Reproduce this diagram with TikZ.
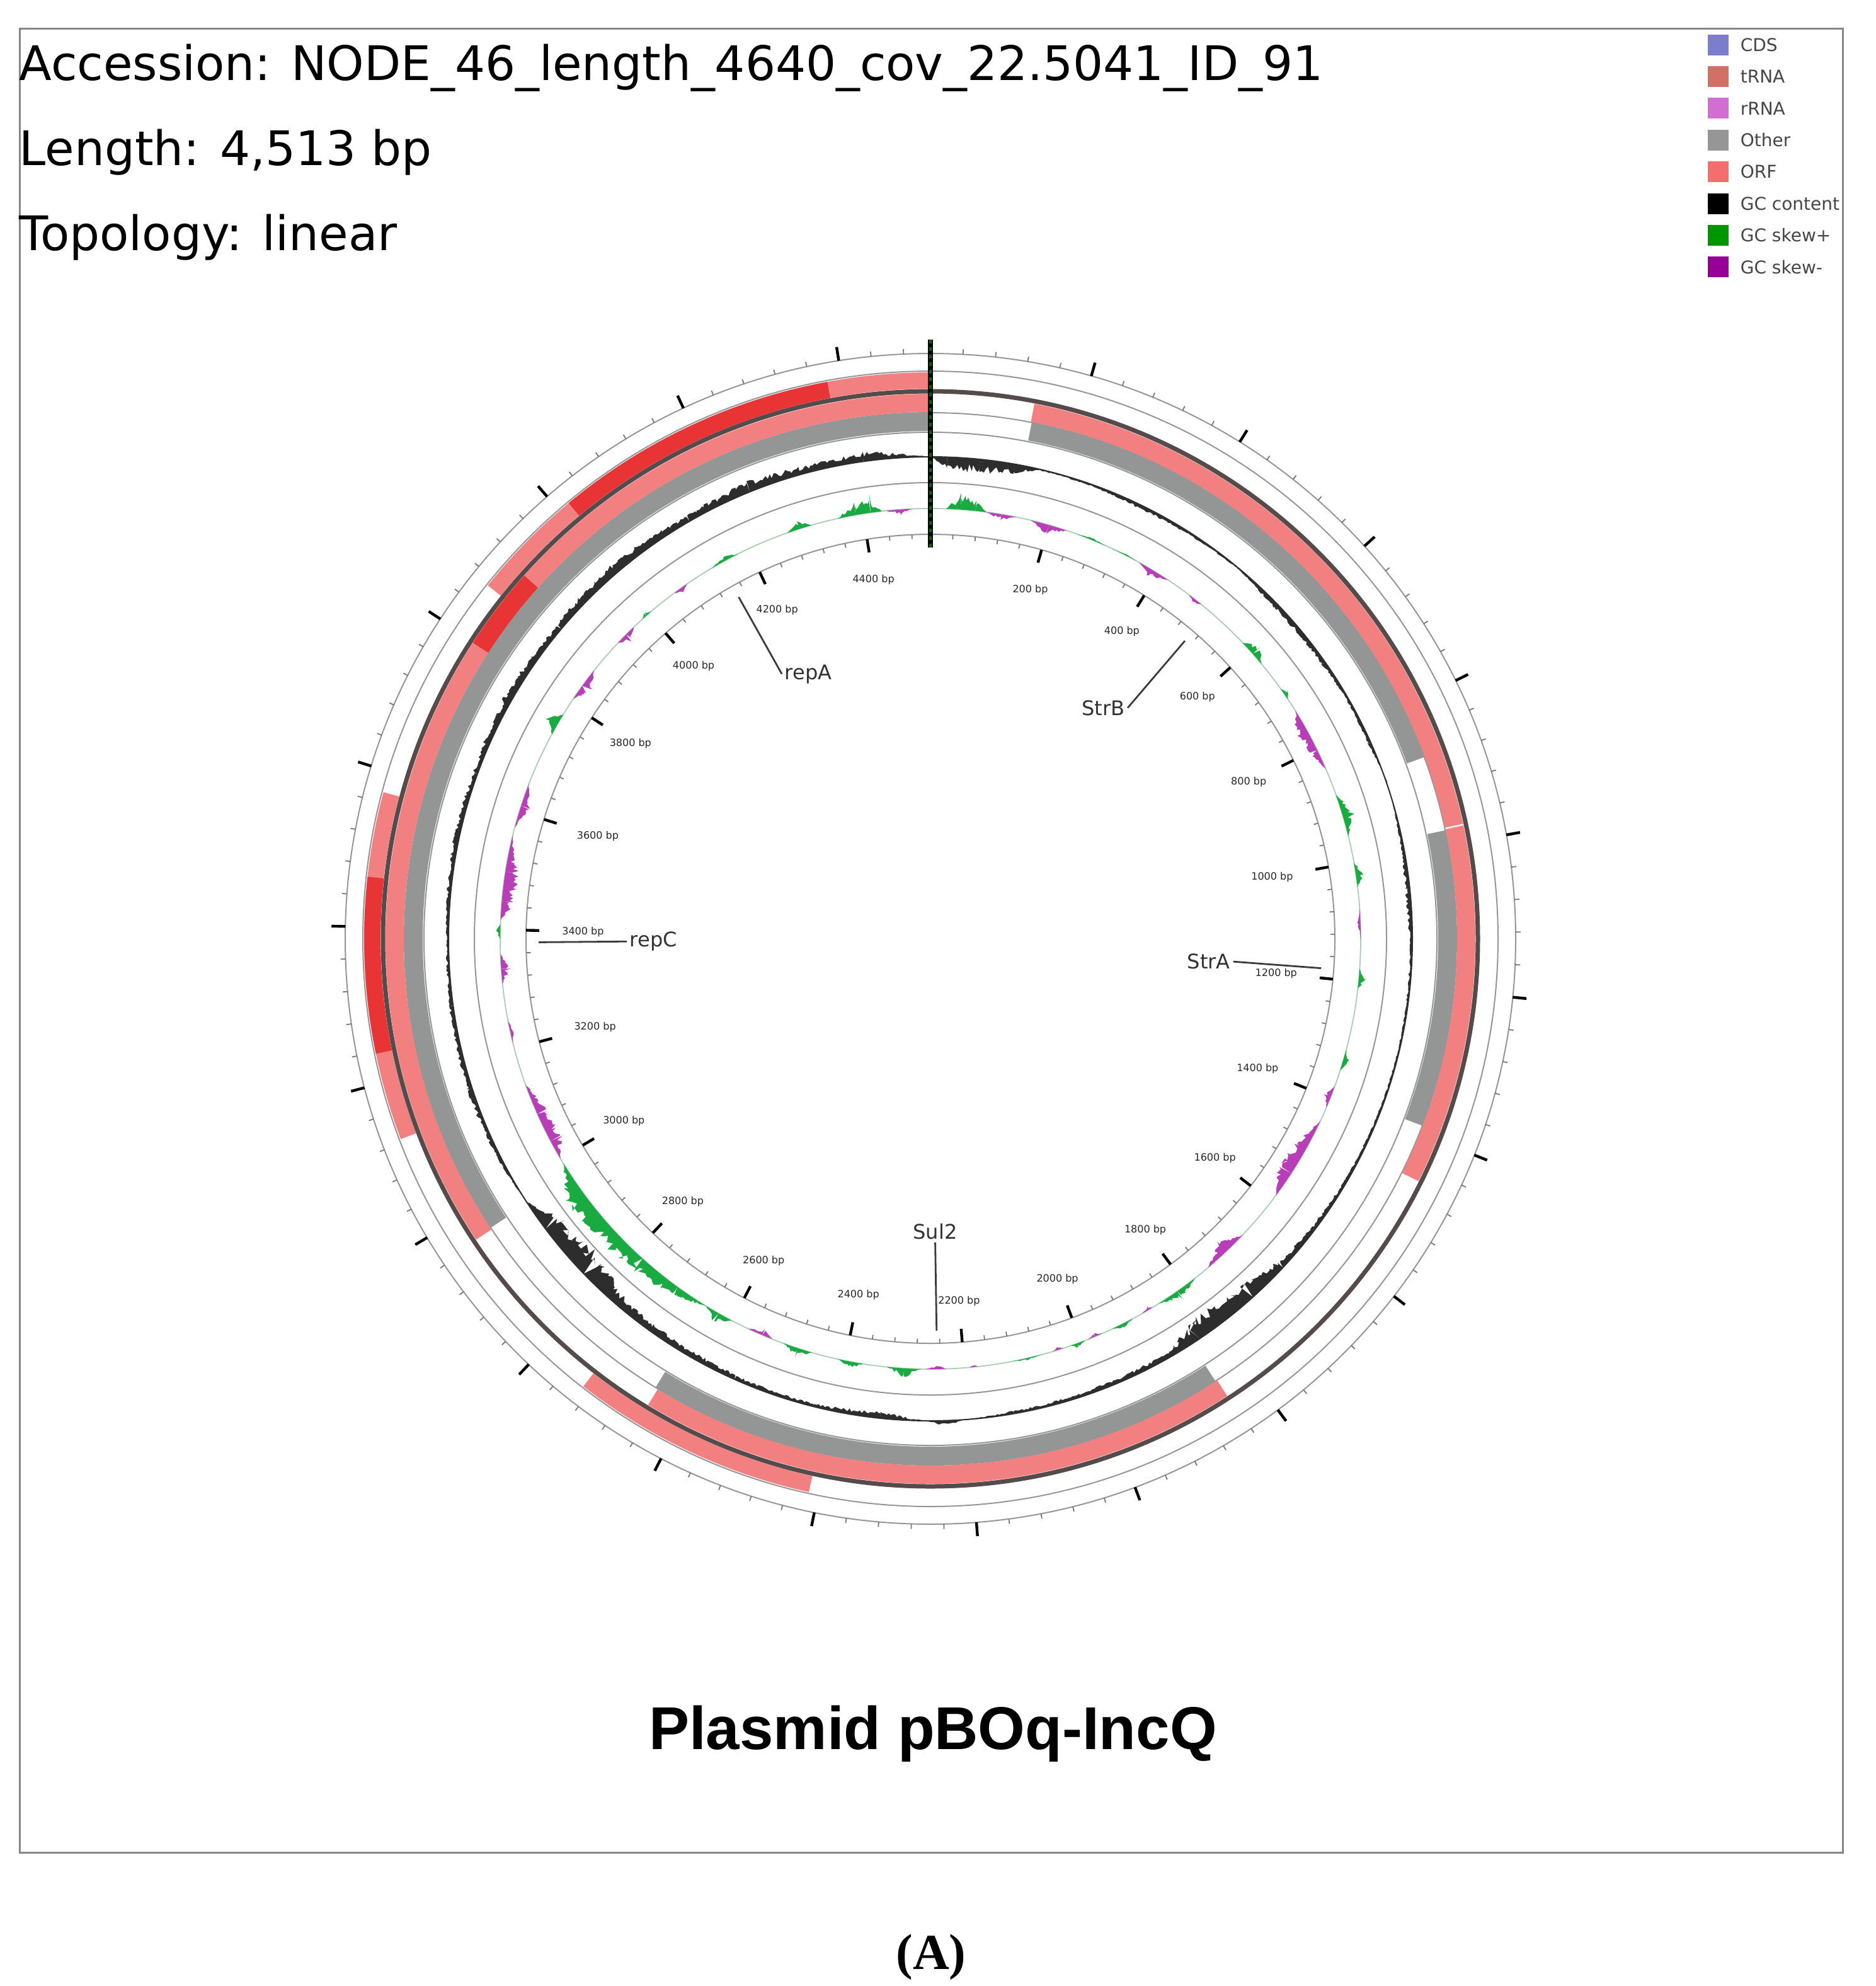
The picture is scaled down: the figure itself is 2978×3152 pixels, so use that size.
\documentclass[tikz,border=0pt]{standalone}
\usepackage{fontspec}
\setmainfont{DejaVu Sans}
\newfontfamily\titlefont{Liberation Sans}
\newfontfamily\capfont{Liberation Serif}

\definecolor{orf}{RGB}{242,128,128}
\definecolor{orfdark}{RGB}{232,52,52}
\definecolor{other}{RGB}{148,150,150}
\definecolor{backbone}{RGB}{85,75,75}
\definecolor{gcpos}{RGB}{25,170,65}
\definecolor{gcneg}{RGB}{185,60,185}
\definecolor{gccont}{RGB}{45,45,45}
\definecolor{ringcol}{RGB}{150,150,150}
\definecolor{tickgrey}{RGB}{120,120,120}
\definecolor{leadcol}{RGB}{60,60,60}
\definecolor{labcol}{RGB}{50,50,50}
\definecolor{framecol}{RGB}{135,135,135}
\definecolor{skewbase}{RGB}{170,205,180}
\definecolor{legtextcol}{RGB}{70,70,70}
\definecolor{lgcds}{RGB}{125,125,205}
\definecolor{lgtrna}{RGB}{210,112,102}
\definecolor{lgrrna}{RGB}{210,110,210}
\definecolor{lgother}{RGB}{150,150,150}
\definecolor{lgorf}{RGB}{245,110,110}
\definecolor{lggc}{RGB}{0,0,0}
\definecolor{lgskp}{RGB}{0,150,0}
\definecolor{lgskm}{RGB}{150,0,150}

\newcommand\annsec[5]{\fill[#1] ({90-(#4)}:#3) arc[start angle={90-(#4)}, end angle={90-(#5)}, radius=#3] -- ({90-(#5)}:#2) arc[start angle={90-(#5)}, end angle={90-(#4)}, radius=#2] -- cycle;}

\tikzset{
  ringline/.style={draw=ringcol, line width=0.5pt},
  majtick/.style={draw=black, line width=1.1pt},
  mintick/.style={draw=tickgrey, line width=0.45pt},
  leader/.style={draw=leadcol, line width=0.7pt},
  genelabel/.style={inner sep=1pt, font=\fontsize{8}{9}\selectfont, text=labcol},
  bplabel/.style={inner sep=0.6pt, font=\fontsize{4}{5}\selectfont, text=black!85},
  headtext/.style={anchor=base west, inner sep=0pt, font=\fontsize{18.9}{22}\selectfont},
  legbox/.style={minimum size=8.25pt, inner sep=0pt},
  legtext/.style={anchor=west, inner sep=0pt, font=\fontsize{7}{8}\selectfont, text=legtextcol},
}

\begin{document}
\begin{tikzpicture}[x=0.25pt,y=0.25pt]
\useasboundingbox (0,0) rectangle (2978,-3152);
\fill[white] (0,0) rectangle (2978,-3152);
\draw[framecol, line width=0.75pt] (31,-45) rectangle (2925,-2940);

% header
\node[headtext] (acc) at (30,-127) {Accession: NODE\_46\_length\_4640\_cov\_22.5041\_ID\_91};
\node[headtext] (len) at (30,-262) {Length: 4,513 bp};
\node[headtext] (topo) at (30,-397) {Topology: linear};

% legend
\foreach \i/\lc/\lt in {0/lgcds/CDS, 1/lgtrna/tRNA, 2/lgrrna/rRNA, 3/lgother/Other, 4/lgorf/ORF, 5/lggc/GC content, 6/lgskp/GC skew+, 7/lgskm/GC skew-} {
  \pgfmathsetmacro\yy{-(71+\i*50.4)}
  \node[legbox, fill=\lc] (lb\i) at (2727,\yy) {};
  \node[legtext] (lt\i) at (2762,\yy) {\lt};
}

\begin{scope}[shift={(1477,-1490)}]
  % thin ring lines
  \foreach \r in {929,901,835,804,724,642} { \draw[ringline] (0,0) circle[radius=\r]; }
  \draw[gccont, line width=0.5pt] (0,0) circle[radius=765];
  \draw[skewbase, line width=0.45pt] (0,0) circle[radius=683];

  % slot A (outer, 873-899)
  \annsec{orf}{873}{899}{308.6}{360}
  \annsec{orfdark}{873}{899}{320.3}{349.5}
  \annsec{orf}{873}{899}{249.3}{285}
  \annsec{orfdark}{873}{899}{258.3}{276.3}
  \annsec{orf}{873}{899}{192.4}{217.8}
  % slot B (836-865)
  \annsec{orf}{836}{865}{11}{116.4}
  \annsec{orf}{836}{865}{147}{211.2}
  \annsec{orf}{836}{865}{236.5}{360}
  \annsec{orfdark}{836}{865}{302.9}{311.8}
  \draw[white, line width=0.6pt] ({90-77.9}:836) -- ({90-77.9}:865);
  % slot C (806-835)
  \annsec{other}{806}{835}{11.1}{69.8}
  \annsec{other}{806}{835}{78.1}{110.8}
  \annsec{other}{806}{835}{147.2}{211.5}
  \annsec{other}{806}{835}{236.7}{360}
  % backbone
  \draw[backbone, line width=1.75pt] (0,0) circle[radius=869];

  \pgfmathsetseed{4513}
  % GC content
  \foreach \a/\b/\va/\vb in {0/2/0/-20, 2/6/-20/-24, 6/10/-24/-16, 10/13/-16/-2, 13/20/-2/-3, 20/26/-3/-8, 26/32/-8/-5, 32/40/-5/-2, 40/46/-2/-10, 46/55/-10/-8, 55/60/-8/-4, 60/66/-4/-6, 66/71/-6/2, 71/76/2/-3, 76/84/-3/-9, 84/92/-9/-5, 92/100/-5/-3, 100/110/-3/-3, 110/120/-3/-5, 120/127/-5/-8, 127/133/-8/-14, 133/138/-14/-32, 138/146/-32/-36, 146/150/-36/-10, 150/160/-10/-7, 160/170/-7/-5, 170/176/-5/0, 176/178/0/10, 178/180.5/10/0, 180.5/186/0/-12, 186/194/-12/-5, 194/204/-5/-8, 204/212/-8/-12, 212/220/-12/-18, 220/226/-18/-40, 226/233/-40/-36, 233/237/-36/0, 237/242/0/6, 242/252/6/10, 252/262/10/7, 262/270/7/4, 270/280/4/10, 280/290/10/9, 290/300/9/15, 300/310/15/12, 310/320/12/17, 320/330/17/12, 330/338/12/19, 338/346/19/12, 346/352/12/17, 352/357/17/6, 357/360/6/0} {
    \pgfmathtruncatemacro\ns{max(3,(\b-\a)*4+1)}
    \fill[gccont] ({90-\a}:765) -- plot[domain=\a:\b, samples=\ns] ({90-\x}:{765+((\va)+((\vb)-(\va))*(\x-\a)/(\b-\a))*(0.4+0.6*rnd)}) -- ({90-\b}:765) arc[start angle={90-\b}, end angle={90-\a}, radius=765] -- cycle;
  }
  % GC skew +
  \foreach \a/\b/\va/\vb in {2/4/0/26, 4/6/26/18, 6/7.5/18/0, 20/22/0/4, 22/24/4/0, 25/27/0/3, 27/28.5/3/0, 46.5/48.5/0/20, 48.5/50.3/20/0, 54.5/55.3/0/8, 55.3/56.2/8/0, 70.5/73/0/22, 73/76.2/22/0, 79.8/81.5/0/16, 81.5/83.1/16/0, 94/95.3/0/14, 95.3/96.7/14/0, 105/106.5/0/12, 106.5/107.8/12/0, 142/145/0/16, 145/148/16/0, 152/153.5/0/10, 153.5/155/10/0, 159/160/0/10, 160/161/10/0, 165/167/0/4, 167/169/4/0, 181.2/183.5/0/16, 183.5/185.8/16/0, 189/190.7/0/12, 190.7/192.4/12/0, 196/198/0/15, 198/200/15/0, 207.5/209.5/0/18, 209.5/211.4/18/0, 211.4/216/0/18, 216/222/18/26, 222/228/26/32, 228/234/32/36, 234/238.5/36/0, 270/271/0/8, 271/272/8/0, 298.4/300/0/26, 300/301.4/26/0, 318/318.7/0/8, 318.7/319.5/8/0, 329.5/331.5/0/9, 331.5/333.4/9/0, 340.6/342.3/0/14, 342.3/344/14/0, 347.5/350/0/22, 350/352/22/30, 352/353.5/30/0} {
    \pgfmathtruncatemacro\ns{max(3,(\b-\a)*4+1)}
    \fill[gcpos] ({90-\a}:683) -- plot[domain=\a:\b, samples=\ns] ({90-\x}:{683+((\va)+((\vb)-(\va))*(\x-\a)/(\b-\a))*(0.35+0.65*rnd)}) -- ({90-\b}:683) arc[start angle={90-\b}, end angle={90-\a}, radius=683] -- cycle;
  }
  % GC skew -
  \foreach \a/\b/\va/\vb in {7.5/9.5/0/-10, 9.5/11.5/-10/0, 13.5/16/0/-18, 16/18.5/-18/0, 29/31/0/-14, 31/33.5/-14/0, 37/38/0/-8, 38/39/-8/0, 58/61/0/-24, 61/64/-24/-16, 64/66.8/-16/0, 86/88/0/-5, 88/90/-5/0, 110/111.5/0/-12, 111.5/113/-12/0, 115/119/0/-22, 119/123/-22/-28, 123/126.6/-28/0, 133.5/136.5/0/-24, 136.5/139.8/-24/0, 149/149.5/0/-6, 149.5/150.5/-6/0, 156.5/157.5/0/-6, 157.5/158.5/-6/0, 162/162.5/0/-6, 162.5/163.5/-6/0, 173.7/174.2/0/-5, 174.2/174.7/-5/0, 177.8/179/0/-6, 179/180.6/-6/0, 201.5/203/0/-12, 203/205/-12/0, 239.3/242/0/-22, 242/246/-22/-26, 246/250.2/-26/0, 256/257.5/0/-8, 257.5/259/-8/0, 264/266/0/-16, 266/268/-16/0, 272.5/275/0/-26, 275/279/-26/-22, 279/284/-22/0, 285/288/0/-16, 288/291.2/-16/0, 303.9/306/0/-20, 306/308.6/-20/0, 313.5/315/0/-18, 315/316.4/-18/0, 323.5/324.5/0/-10, 324.5/325.5/-10/0, 354/356/0/-9, 356/357.7/-9/0} {
    \pgfmathtruncatemacro\ns{max(3,(\b-\a)*4+1)}
    \fill[gcneg] ({90-\a}:683) -- plot[domain=\a:\b, samples=\ns] ({90-\x}:{683+((\va)+((\vb)-(\va))*(\x-\a)/(\b-\a))*(0.35+0.65*rnd)}) -- ({90-\b}:683) arc[start angle={90-\b}, end angle={90-\a}, radius=683] -- cycle;
  }

  % ruler ticks (40 bp minor, 200 bp major)
  \foreach \m in {1,...,112} {
    \pgfmathsetmacro\ph{90-\m*3.190782}
    \pgfmathtruncatemacro\ismaj{mod(\m,5)==0}
    \ifnum\ismaj=1
      \draw[majtick] (\ph:929) -- (\ph:951);
      \draw[majtick] (\ph:642) -- (\ph:621);
    \else
      \draw[mintick] (\ph:929) -- (\ph:937);
      \draw[mintick] (\ph:642) -- (\ph:635);
    \fi
  }
  % origin line
  \coordinate (ztop) at (90:951);
  \coordinate (zbot) at (90:621);
  \draw[black, line width=2pt] (ztop) -- (zbot);
  \draw[green!40!black, line width=1.2pt, dash pattern=on 1.5pt off 1.5pt] (ztop) -- (zbot);

  % bp labels
  \foreach \k in {1,...,22} {
    \pgfmathsetmacro\ph{mod(450-\k*15.95391,360)}
    \pgfmathtruncatemacro\bpv{\k*200}
    \node[bplabel, anchor=\ph] (bp\k) at (\ph:588) {\bpv\ bp};
  }

  % gene labels with leaders
  \foreach \nm/\tha/\anc in {repA/330.7/west, StrB/40.5/east, StrA/94.3/east, repC/269.5/west, Sul2/179.1/south} {
    \coordinate (\nm-tip) at ({90-\tha}:622);
    \node[genelabel, anchor=\anc] (\nm) at ({90-\tha}:482) {\nm};
    \draw[leader] (\nm-tip) -- (\nm.\anc);
  }
\end{scope}

\node[anchor=base, inner sep=0pt, font={\titlefont\bfseries\fontsize{24}{28}\selectfont}] (title) at (1481,-2776) {Plasmid pBOq-IncQ};
\node[anchor=base, inner sep=0pt, font={\capfont\bfseries\fontsize{20}{24}\selectfont}] (cap) at (1478,-3125) {(A)};
\end{tikzpicture}
\end{document}
